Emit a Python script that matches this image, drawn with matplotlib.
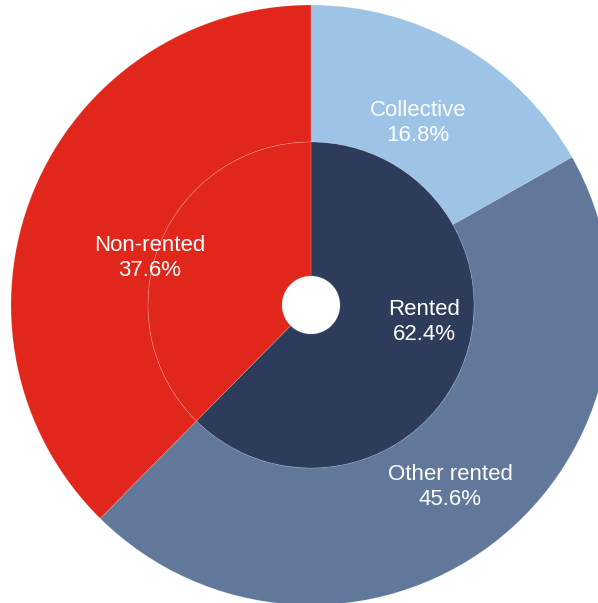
import matplotlib
matplotlib.use("Agg")
import matplotlib.pyplot as plt

outer_labels = ["Collective", "Other rented", "Non-rented"]
outer_values = [16.8, 45.6, 37.6]
outer_colors = ["#9DC3E6", "#61789A", "#E1261C"]

inner_labels = ["Rented", "Non-rented"]
inner_values = [62.4, 37.6]
inner_colors = ["#2E3C5C", "#E1261C"]

W, H = 598, 603
fig = plt.figure(figsize=(W / 100, H / 100), dpi=100)
ax = fig.add_axes([0, 0, 1, 1])

cx, cy = 311, H - 305
R_out, R_mid, R_hole = 300, 163, 29

edge = dict(linewidth=0.6, edgecolor=(1, 1, 1, 0.18))
ax.pie(outer_values, colors=outer_colors, startangle=90, counterclock=False,
       radius=R_out, center=(cx, cy), wedgeprops=dict(width=R_out - R_mid, **edge),
       frame=True)
ax.pie(inner_values, colors=inner_colors, startangle=90, counterclock=False,
       radius=R_mid, center=(cx, cy), wedgeprops=dict(width=R_mid - R_hole, **edge),
       frame=True)
ax.set_xlim(0, W)
ax.set_ylim(0, H)
ax.set_aspect("equal")
ax.axis("off")

font = dict(family=["Liberation Sans", "DejaVu Sans"], fontsize=16, color="white",
            ha="center", va="center", linespacing=1.2)
label_pos = {
    "Collective": (418, 123),
    "Rented": (424, 322),
    "Other rented": (450, 487),
    "Non-rented": (150, 258),
}
texts = [("Collective", outer_values[0]), ("Rented", inner_values[0]),
         ("Other rented", outer_values[1]), ("Non-rented", inner_values[1])]
for name, val in texts:
    x, y = label_pos[name]
    ax.text(x, H - y, f"{name}\n{val:.1f}%", **font)

fig.savefig("out.png", dpi=100)
